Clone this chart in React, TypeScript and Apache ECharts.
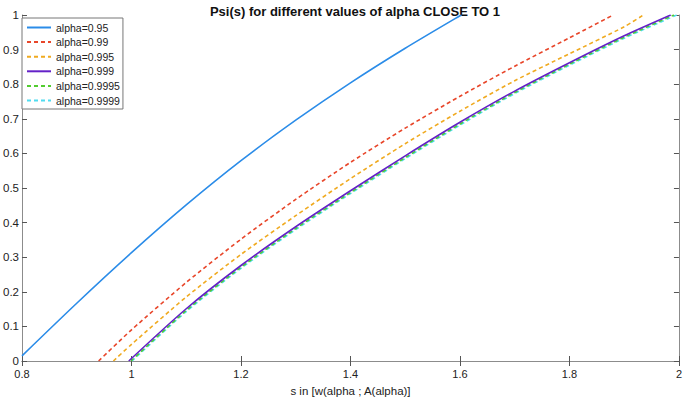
import React, { useEffect, useRef } from "react";
import * as echarts from "echarts";

const seriesNames = [
  "alpha=0.95",
  "alpha=0.99",
  "alpha=0.995",
  "alpha=0.999",
  "alpha=0.9995",
  "alpha=0.9999",
];

const psi095: [number, number][] = [
  [0.8, 0.015], [0.9, 0.167], [1.0, 0.313], [1.1, 0.451], [1.2, 0.579],
  [1.3, 0.696], [1.4, 0.804], [1.5, 0.904], [1.6, 0.998], [1.603, 1.0],
];
const psi099: [number, number][] = [
  [0.94, 0], [1.0, 0.09], [1.1, 0.227], [1.2, 0.352], [1.3, 0.467],
  [1.4, 0.574], [1.5, 0.673], [1.6, 0.765], [1.7, 0.852], [1.8, 0.934], [1.88, 1.0],
];
const psi0995: [number, number][] = [
  [0.967, 0], [1.0, 0.048], [1.1, 0.185], [1.2, 0.308], [1.3, 0.42],
  [1.4, 0.527], [1.5, 0.628], [1.6, 0.722], [1.7, 0.81], [1.8, 0.888], [1.9, 0.966], [1.935, 1.0],
];
const psi0999: [number, number][] = [
  [0.995, 0], [1.1, 0.151], [1.2, 0.276], [1.3, 0.388], [1.4, 0.492],
  [1.5, 0.593], [1.6, 0.69], [1.7, 0.78], [1.8, 0.862], [1.9, 0.94], [1.985, 1.0],
];
const psi09995: [number, number][] = [
  [0.999, 0], [1.1, 0.146], [1.2, 0.271], [1.3, 0.383], [1.4, 0.487],
  [1.5, 0.588], [1.6, 0.685], [1.7, 0.776], [1.8, 0.858], [1.9, 0.936], [1.991, 1.0],
];
const psi09999: [number, number][] = [
  [1.001, 0], [1.1, 0.143], [1.2, 0.268], [1.3, 0.38], [1.4, 0.484],
  [1.5, 0.585], [1.6, 0.682], [1.7, 0.773], [1.8, 0.855], [1.9, 0.933], [1.996, 1.0],
];

const seriesData = [psi095, psi099, psi0995, psi0999, psi09995, psi09999];
const seriesColors = ["#2b8ce8", "#e8462a", "#f0aa20", "#6422c8", "#52cc30", "#50dcf0"];
const seriesDashed = [false, true, true, false, true, true];

const xTicks = { min: 0.8, max: 2, interval: 0.2 };
const yTicks = { min: 0, max: 1, interval: 0.1 };

const titleText = "Psi(s) for different values of alpha CLOSE TO 1";
const xAxisName = "s in [w(alpha ; A(alpha)]";

const FONT = "'Liberation Sans', Arial, Helvetica, sans-serif";
const AXIS_COLOR = "#8c8c8c";

export default function App() {
  const ref = useRef<HTMLDivElement>(null);

  useEffect(() => {
    if (!ref.current) return;
    const chart = echarts.init(ref.current, undefined, { renderer: "svg" });

    const fmt = (v: number) => String(Math.round(v * 10) / 10);

    const baseAxisLine = { show: true, lineStyle: { color: AXIS_COLOR, width: 1 } };
    const baseTick = { show: true, inside: true, length: 5, lineStyle: { color: "#555", width: 1 } };

    chart.setOption({
      animation: false,
      backgroundColor: "#ffffff",
      textStyle: { fontFamily: FONT },
      title: {
        text: titleText,
        left: 350,
        textAlign: "center",
        top: 0,
        textStyle: { fontSize: 13, fontWeight: "bold", color: "#111", fontFamily: FONT },
      },
      grid: { left: 20, right: 3, top: 15, bottom: 42 },
      legend: {
        orient: "vertical",
        left: 22,
        top: 18,
        padding: [4, 3, 3, 4],
        backgroundColor: "#ffffff",
        borderColor: "#777",
        borderWidth: 1,
        borderRadius: 0,
        itemWidth: 24,
        itemHeight: 10,
        itemGap: 3.6,
        itemStyle: { opacity: 0, borderWidth: 0 },
        textStyle: { fontSize: 10.5, color: "#222", fontFamily: FONT },
        data: seriesNames,
      },
      xAxis: [
        {
          type: "value",
          position: "bottom",
          min: xTicks.min,
          max: xTicks.max,
          interval: xTicks.interval,
          name: xAxisName,
          nameLocation: "middle",
          nameGap: 24,
          nameTextStyle: { fontSize: 11.5, color: "#222", fontFamily: FONT },
          axisLine: baseAxisLine,
          axisTick: baseTick,
          axisLabel: { fontSize: 11, color: "#222", margin: 7, formatter: fmt, fontFamily: FONT },
          splitLine: { show: false },
        },
        {
          type: "value",
          position: "top",
          min: xTicks.min,
          max: xTicks.max,
          interval: xTicks.interval,
          axisLine: baseAxisLine,
          axisTick: baseTick,
          axisLabel: { show: false },
          splitLine: { show: false },
        },
      ],
      yAxis: [
        {
          type: "value",
          position: "left",
          min: yTicks.min,
          max: yTicks.max,
          interval: yTicks.interval,
          axisLine: baseAxisLine,
          axisTick: baseTick,
          axisLabel: { fontSize: 11.5, color: "#222", margin: 3, formatter: fmt, fontFamily: FONT },
          splitLine: { show: false },
        },
        {
          type: "value",
          position: "right",
          min: yTicks.min,
          max: yTicks.max,
          interval: yTicks.interval,
          axisLine: baseAxisLine,
          axisTick: baseTick,
          axisLabel: { show: false },
          splitLine: { show: false },
        },
      ],
      series: seriesNames.map((name, i) => ({
        name,
        type: "line",
        data: seriesData[i],
        xAxisIndex: 0,
        yAxisIndex: 0,
        symbol: "none",
        smooth: 0.25,
        color: seriesColors[i],
        lineStyle: {
          color: seriesColors[i],
          width: 1.6,
          type: seriesDashed[i] ? [4, 3] : "solid",
        },
        itemStyle: { color: seriesColors[i] },
        z: 10 - i,
      })),
    });

    return () => chart.dispose();
  }, []);

  return (
    <div
      ref={ref}
      style={{ position: "fixed", left: 0, top: 0, width: 685, height: 403 }}
    />
  );
}
